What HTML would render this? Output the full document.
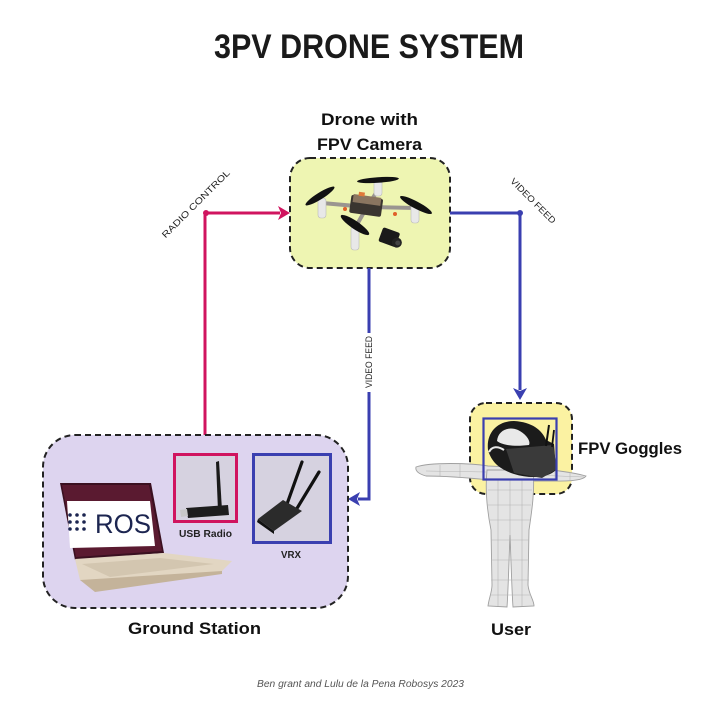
<!DOCTYPE html>
<html><head><meta charset="utf-8"><style>
html,body{margin:0;padding:0;background:#fff;}
svg{display:block;}
text{font-family:"Liberation Sans",sans-serif;}
</style></head><body>
<svg width="720" height="722" viewBox="0 0 720 722" xmlns="http://www.w3.org/2000/svg">
<rect width="720" height="722" fill="#fff"/>
<!-- Title -->
<text x="214" y="58" font-size="34" font-weight="bold" fill="#1a1a1a" textLength="310" lengthAdjust="spacingAndGlyphs">3PV DRONE SYSTEM</text>

<!-- Drone labels -->
<text x="321" y="125" font-size="17" font-weight="bold" fill="#111" textLength="97" lengthAdjust="spacingAndGlyphs">Drone with</text>
<text x="317" y="150" font-size="17" font-weight="bold" fill="#111" textLength="105" lengthAdjust="spacingAndGlyphs">FPV Camera</text>

<!-- Drone box -->
<rect x="290" y="158" width="160" height="110" rx="20" fill="#eef5b2" stroke="#222" stroke-width="2" stroke-dasharray="6,4"/>

<!-- Drone drawing -->
<g>
  <line x1="367" y1="207" x2="322" y2="203" stroke="#9a9590" stroke-width="4"/>
  <line x1="367" y1="207" x2="415" y2="208" stroke="#9a9590" stroke-width="4"/>
  <line x1="367" y1="207" x2="378" y2="190" stroke="#9a9590" stroke-width="4"/>
  <line x1="367" y1="207" x2="355" y2="228" stroke="#9a9590" stroke-width="4"/>
  <rect x="318" y="198" width="8" height="20" rx="3" fill="#e8e8e8" stroke="#bbb" stroke-width="0.6"/>
  <rect x="411" y="203" width="8" height="20" rx="3" fill="#e8e8e8" stroke="#bbb" stroke-width="0.6"/>
  <rect x="374" y="180" width="8" height="16" rx="3" fill="#e8e8e8" stroke="#bbb" stroke-width="0.6"/>
  <rect x="351" y="226" width="8" height="24" rx="3" fill="#e8e8e8" stroke="#bbb" stroke-width="0.6"/>
  <ellipse cx="378" cy="180" rx="21" ry="2.8" fill="#111" transform="rotate(-4 378 180)"/>
  <ellipse cx="320" cy="196" rx="17" ry="3.4" fill="#111" transform="rotate(-32 320 196)"/>
  <ellipse cx="416" cy="205" rx="18" ry="3.6" fill="#111" transform="rotate(28 416 205)"/>
  <ellipse cx="355" cy="225" rx="17" ry="4" fill="#111" transform="rotate(34 355 225)"/>
  <g transform="rotate(8 367 207)">
    <rect x="350" y="197" width="32" height="18" rx="2" fill="#3a3530"/>
    <rect x="352" y="196" width="28" height="8" fill="#8a7560"/>
    <rect x="357" y="193" width="6" height="4" fill="#e07a3a"/>
  </g>
  <circle cx="345" cy="209" r="2" fill="#e0602a"/>
  <circle cx="395" cy="214" r="2" fill="#e0602a"/>
  <g transform="rotate(20 390 238)">
    <rect x="380" y="230" width="18" height="15" rx="2" fill="#1a1a1a"/>
    <circle cx="398" cy="240" r="5" fill="#222"/>
    <circle cx="399" cy="240" r="2.5" fill="#444"/>
  </g>
</g>

<!-- Radio control connector -->
<polyline points="205,435 205,213 280,213" fill="none" stroke="#d0145f" stroke-width="3"/>
<polygon points="290,213 278,206 281,213 278,220" fill="#d0145f"/>
<circle cx="206" cy="213" r="3" fill="#d0145f"/>
<text x="198" y="206" font-size="9" fill="#222" text-anchor="middle" transform="rotate(-45 198 206)" textLength="92" lengthAdjust="spacingAndGlyphs">RADIO CONTROL</text>

<!-- Video feed right -->
<polyline points="450,213 520,213 520,390" fill="none" stroke="#3a3fb0" stroke-width="3"/>
<polygon points="520,400 513,388 520,391 527,388" fill="#3a3fb0"/>
<circle cx="520" cy="213" r="3" fill="#3a3fb0"/>
<text x="531" y="203" font-size="9" fill="#222" text-anchor="middle" transform="rotate(45 531 203)" textLength="60" lengthAdjust="spacingAndGlyphs">VIDEO FEED</text>

<!-- Video feed down -->
<line x1="369" y1="268" x2="369" y2="333" stroke="#3a3fb0" stroke-width="3"/>
<polyline points="369,392 369,499 358,499" fill="none" stroke="#3a3fb0" stroke-width="3"/>
<polygon points="348,499 360,492 357,499 360,506" fill="#3a3fb0"/>
<text x="372" y="362" font-size="9" fill="#222" text-anchor="middle" transform="rotate(-90 372 362)" textLength="52" lengthAdjust="spacingAndGlyphs">VIDEO FEED</text>

<!-- Ground station box -->
<rect x="43" y="435" width="305" height="173" rx="32" fill="#ddd4ef" stroke="#222" stroke-width="2" stroke-dasharray="6,4"/>

<!-- Laptop -->
<polygon points="60,483 151,483 164,553 75,560" fill="#3a1020"/>
<polygon points="62,485 149,485 162,551 76,557" fill="#5a1a30"/>
<polygon points="67,501 150,501 155,546 70,548" fill="#fff"/>
<g fill="#1c2550">
  <circle cx="70" cy="515" r="1.8"/><circle cx="77" cy="515" r="1.8"/><circle cx="84" cy="515" r="1.8"/>
  <circle cx="70" cy="522" r="1.8"/><circle cx="77" cy="522" r="1.8"/><circle cx="84" cy="522" r="1.8"/>
  <circle cx="70" cy="529" r="1.8"/><circle cx="77" cy="529" r="1.8"/><circle cx="84" cy="529" r="1.8"/>
</g>
<text x="95" y="533" font-size="27" fill="#1c2550" textLength="56" lengthAdjust="spacingAndGlyphs">ROS</text>
<polygon points="75,559 164,553 232,561 222,571 95,590 80,580" fill="#e2d6c2"/>
<polygon points="82,564 160,558 214,564 110,577" fill="#d3c6b0"/>
<polygon points="80,580 222,571 222,574 95,592" fill="#c4b39a"/>

<!-- USB Radio box -->
<rect x="174.5" y="454.5" width="62" height="67" fill="#d6d2e0" stroke="#d0145f" stroke-width="3"/>
<polygon points="216,462 219,461 222,510 218,511" fill="#1a1a1a"/>
<polygon points="186,508 228,505 229,515 188,518" fill="#1d1d1d"/>
<polygon points="180,510 187,509 188,516 181,517" fill="#c8c8c8"/>
<text x="179" y="537" font-size="10.5" font-weight="bold" fill="#222" textLength="53" lengthAdjust="spacingAndGlyphs">USB Radio</text>

<!-- VRX box -->
<rect x="253.5" y="454.5" width="77" height="88" fill="#d6d2e0" stroke="#3a3fb0" stroke-width="3"/>
<line x1="287" y1="504" x2="302" y2="462" stroke="#111" stroke-width="3.2" stroke-linecap="round"/>
<line x1="296" y1="510" x2="319" y2="472" stroke="#111" stroke-width="3.2" stroke-linecap="round"/>
<polygon points="258,519 283,500 302,511 274,531" fill="#2b2b2b"/>
<polygon points="258,519 274,531 274,534 257,522" fill="#111"/>
<text x="281" y="558" font-size="10.5" font-weight="bold" fill="#222" textLength="20" lengthAdjust="spacingAndGlyphs">VRX</text>

<text x="128" y="634" font-size="17" font-weight="bold" fill="#111" textLength="133" lengthAdjust="spacingAndGlyphs">Ground Station</text>

<!-- Goggles box -->
<rect x="470" y="403" width="102" height="91" rx="16" fill="#fbf2a2" stroke="#222" stroke-width="2" stroke-dasharray="6,4"/>

<!-- Person -->
<g fill="#e4e4e4" stroke="#a0a0a0" stroke-width="0.9">
  <path d="M416,467 C430,462 470,463 488,466 L532,468 C552,470 572,472 586,476 C582,482 562,481 532,481 L490,480 C470,478 442,476 426,476 C419,474 415,471 416,467 Z"/>
  <path d="M487,470 L533,470 C535,490 532,510 529,530 L528,585 C529,595 534,600 534,606 L513,607 C512,595 511,560 510,535 C509,560 508,595 507,607 L488,606 C489,598 492,592 492,585 L491,530 C487,510 485,490 487,470 Z"/>
  <ellipse cx="513" cy="445" rx="16" ry="22"/>
</g>
<g stroke="#b4b4b4" stroke-width="0.6" fill="none">
  <line x1="488" y1="490" x2="532" y2="490"/><line x1="488" y1="505" x2="531" y2="505"/>
  <line x1="490" y1="520" x2="530" y2="520"/><line x1="491" y1="540" x2="529" y2="540"/>
  <line x1="491" y1="560" x2="529" y2="560"/><line x1="491" y1="580" x2="529" y2="580"/>
  <line x1="490" y1="595" x2="531" y2="595"/>
  <line x1="498" y1="480" x2="498" y2="606"/><line x1="522" y1="480" x2="522" y2="606"/>
  <line x1="510" y1="480" x2="510" y2="535"/>
  <line x1="440" y1="465" x2="440" y2="476"/><line x1="460" y1="464" x2="460" y2="477"/>
  <line x1="555" y1="470" x2="555" y2="481"/><line x1="570" y1="472" x2="570" y2="481"/>
  <line x1="426" y1="471" x2="486" y2="472"/><line x1="534" y1="475" x2="584" y2="477"/>
</g>

<!-- Goggles -->
<path d="M488,450 C486,432 498,421 514,421 C532,422 542,430 546,440 L554,444 L556,470 C548,478 530,479 514,474 C502,470 492,464 488,450 Z" fill="#1b1b1b"/>
<path d="M497,441 C498,430 509,426 518,430 C526,434 531,441 529,445 C520,446 505,447 497,441 Z" fill="#e9e9e9"/>
<path d="M489,452 C492,446 498,446 504,450" stroke="#e9e9e9" stroke-width="2" fill="none"/>
<polygon points="506,449 553,445 557,469 542,478 514,473" fill="#3a3a3a"/>
<line x1="546" y1="446" x2="549" y2="425" stroke="#111" stroke-width="2"/>
<line x1="552" y1="447" x2="554" y2="430" stroke="#111" stroke-width="1.8"/>
<rect x="483.5" y="418.5" width="73" height="61" fill="none" stroke="#3a3fb0" stroke-width="2.2"/>

<text x="578" y="454" font-size="17" font-weight="bold" fill="#111" textLength="104" lengthAdjust="spacingAndGlyphs">FPV Goggles</text>
<text x="491" y="635" font-size="17" font-weight="bold" fill="#111" textLength="40" lengthAdjust="spacingAndGlyphs">User</text>

<!-- Footer -->
<text x="257" y="687" font-size="10" font-style="italic" fill="#555" textLength="207" lengthAdjust="spacingAndGlyphs">Ben grant and Lulu de la Pena Robosys 2023</text>
</svg>
</body></html>
